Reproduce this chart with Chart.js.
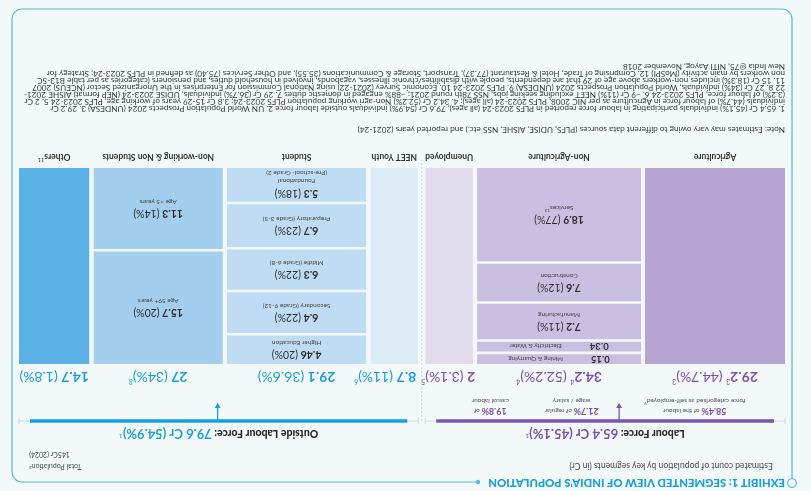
<!DOCTYPE html>
<html>
<head>
<meta charset="utf-8">
<title>Segmented view of India's population</title>
<script src="https://cdn.jsdelivr.net/npm/chart.js@4.4.1/dist/chart.umd.min.js"></script>
<style>
html,body{margin:0;padding:0;background:#F3F8F9;}
body{width:811px;height:491px;overflow:hidden;position:relative;}
#page{position:absolute;left:0;top:0;width:811px;height:491px;transform:rotate(180deg);font-family:Lato,"Open Sans",Arial,sans-serif;color:#333;}
#chart{position:absolute;left:0;top:0;width:811px;height:491px;}
.t{position:absolute;white-space:nowrap;line-height:1;}
#title{left:26px;top:2px;font-size:10.5px;font-weight:900;color:#1B9FDA;}
#subtitle{left:38px;top:21px;font-size:7px;color:#4a4a4a;}
#total{right:29px;top:19px;font-size:7px;color:#4a4a4a;text-align:right;line-height:10px;}
.sp{font-size:65%;position:relative;top:-0.45em;}
#noteHead{left:26px;top:356.5px;font-size:6.5px;color:#3a3a3a;}
#notes{position:absolute;left:26px;top:378.5px;font-size:6.5px;color:#3a3a3a;}
#notes div{white-space:nowrap;height:7.05px;line-height:7.05px;}
</style>
</head>
<body>
<div id="page">
  <canvas id="chart" width="811" height="491"></canvas>
  <div id="title" class="t"></div>
  <div id="subtitle" class="t"></div>
  <div id="total" class="t"></div>
  <div id="noteHead" class="t"></div>
  <div id="notes"></div>
</div>
<script>
// ---------------- data ----------------
const titleText = "EXHIBIT 1: SEGMENTED VIEW OF INDIA'S POPULATION";
const subtitleText = "Estimated count of population by key segments (in Cr)";
const totalLabel = "Total Population";
const totalNote = "2";
const totalValue = "145Cr (2024)";

const columnNames = ["Agriculture", "Non-Agriculture", "Unemployed", "NEET Youth", "Student", "Non-working & Non Students", "Others"];
const columnNameNotes = ["", "", "", "", "", "", "11"];
const columnValues = [29.2, 34.2, 2, 8.7, 29.1, 27, 14.7];
const columnShares = ["44.7%", "52.2%", "3.1%", "11%", "36.6%", "34%", "1.8%"];
const valueNotes = ["3", "4", "", "", "", "", ""];
const shareNotes = ["3", "4", "5", "6", "", "8", ""];
const columnGroups = [0, 0, 0, 1, 1, 1, 1];

const nonAgriLabels = ["Mining & Quarrying", "Electricity & Water", "Manufacturing", "Construction", "Services"];
const nonAgriNotes = ["", "", "", "", "12"];
const nonAgriValues = [0.15, 0.34, 7.2, 7.6, 18.9];
const nonAgriShares = ["", "", "11%", "12%", "77%"];

const studentLabels = ["Higher Education", "Secondary (Grade 9-12)", "Middle (Grade 6-8)", "Preparatory (Grade 3-5)", "Foundational\n(Pre-school- Grade 2)"];
const studentValues = [4.46, 6.4, 6.3, 6.7, 5.3];
const studentShares = ["20%", "22%", "22%", "23%", "18%"];

const nonWorkingLabels = ["Age 59+ years", "Age <5 years"];
const nonWorkingValues = [15.7, 11.3];
const nonWorkingShares = ["20%", "14%"];

const groupNames = ["Labour Force: ", "Outside Labour Force: "];
const groupValues = [65.4, 79.6];
const groupShares = ["45.1%", "54.9%"];
const groupNotes = ["1", "1"];

const labourSplitShares = ["58.4%", "21.7%", "19.8%"];
const labourSplitLine1 = [" of the labour", " of regular", " of"];
const labourSplitLine2 = ["force categorised as self-employed", "wage / salary", "casual labour"];
const labourSplitNotes = ["9", "", ""];

const noteHeadText = "Note: Estimates may vary owing to different data sources (PLFS, UDISE, AISHE, NSS etc.) and reported years (2021-24)";
const noteLines = [
  "1. 65.4 Cr (45.1%) individuals participating in labour force reported in PLFS 2023-24 (all ages), 79.6 Cr (54.9%) individuals outside labour force 2. UN World Population Prospects 2024 (UNDESA) 3. 29.2 Cr",
  "individuals (44.7%) of labour force in Agriculture as per NIC 2008, PLFS 2023-24 (all ages); 4. 34.2 Cr (52.2%) Non-agri working population PLFS 2023-24; 3.8 Cr 15-29 years of working age, PLFS 2023-24 5. 2 Cr",
  "(3.2%) of labour force, PLFS 2023-24 6. ~9 Cr (11%) NEET excluding seeking jobs, NSS 78th round 2021; ~88% engaged in domestic duties 7. 29 Cr (36.7%) individuals, UDISE 2023-24 (NEP format) AISHE 2021-",
  "22 8. 27 Cr (34%) individuals, World Population Prospects 2024 (UNDESA) 9. PLFS 2023-24 10. Economic Survey (2021-22) using National Commission for Enterprises in the Unorganized Sector (NCEUS) 2007",
  "11. 15 Cr (18.3%) includes non-workers above age of 29 that are dependents, people with disabilities/chronic illnesses, vagabonds, involved in household duties, and pensioners (categories as per table B13-SC",
  "non workers by main activity (MoSPI) 12. Comprising of Trade, Hotel & Restaurant (77.37), Transport, Storage & Communications (35.55), and Other Services (75.40) as defined in PLFS 2023-24; Strategy for",
  "New India @75, NITI Aayog, November 2018"
];

// ---------------- styles / layout ----------------
const columnColors = ["#B7A5D3", "#CBBFE1", "#E3DCEE", "#DDEBF7", "#BEDDF4", "#A3CEEE", "#5CB1E5"];
const groupColors = ["#7A50B0", "#1B9FDA"];
const groupLineColors = ["#7B55B3", "#13A1DE"];
const COL_GAP = 0.83, GROUP_GAP = 1.45, MIN_COL = 10, MIN_SEG = 2, SEG_GAP = 0.013;
const annotationPos = [0.251, 0.593, 0.819];
const arrowShift = [-14, 1];
const FONT = 'Lato, "Open Sans", sans-serif';
const F = (w, s) => `${w} ${s}px ${FONT}`;

const segmentsByColumn = [
  null,
  {labels: nonAgriLabels, notes: nonAgriNotes, values: nonAgriValues, shares: nonAgriShares},
  null,
  null,
  {labels: studentLabels, notes: studentLabels.map(() => ""), values: studentValues, shares: studentShares},
  {labels: nonWorkingLabels, notes: nonWorkingLabels.map(() => ""), values: nonWorkingValues, shares: nonWorkingShares},
  null
];

// column extents along the x scale (Cr units)
const colStart = [], colEnd = [];
let cursor = 0;
columnValues.forEach((v, i) => {
  if (i > 0) cursor += (columnGroups[i] !== columnGroups[i - 1]) ? GROUP_GAP : COL_GAP;
  colStart.push(cursor);
  cursor += Math.max(v, MIN_COL);
  colEnd.push(cursor);
});
const X_MAX = cursor;

function segLayout(values) {
  const w = values.map(v => Math.max(v, MIN_SEG));
  const tot = w.reduce((a, b) => a + b, 0);
  const avail = 1 - SEG_GAP * (w.length - 1);
  let y = 0;
  return w.map(wi => { const y0 = y, y1 = y + wi / tot * avail; y = y1 + SEG_GAP; return [y0, y1]; });
}

const cells = [];
columnValues.forEach((v, i) => {
  const seg = segmentsByColumn[i];
  if (!seg) { cells.push({col: i, y0: 0, y1: 1, seg: null}); return; }
  segLayout(seg.values).forEach(([y0, y1], k) => cells.push({col: i, y0, y1, seg, k}));
});

const datasets = cells.map(c => ({
  label: c.seg ? c.seg.labels[c.k] : columnNames[c.col],
  data: [{x: colStart[c.col], y: c.y0}, {x: colEnd[c.col], y: c.y0}],
  fill: {value: c.y1},
  backgroundColor: columnColors[c.col],
  borderColor: "rgba(0,0,0,0)",
  borderWidth: 0,
  pointRadius: 0,
  pointHoverRadius: 0,
  tension: 0
}));

// ---------------- text helpers ----------------
function measure(ctx, parts) { let w = 0; for (const p of parts) { ctx.font = p.f; w += ctx.measureText(p.t).width; } return w; }
function rich(ctx, parts, x, y, align) {
  const w = measure(ctx, parts);
  let cx = align === "left" ? x : (align === "right" ? x - w : x - w / 2);
  ctx.textAlign = "left"; ctx.textBaseline = "middle";
  for (const p of parts) { ctx.font = p.f; ctx.fillStyle = p.c; ctx.fillText(p.t, cx, y + (p.dy || 0)); cx += ctx.measureText(p.t).width; }
  return w;
}
const sup = (t, size, c) => ({t, f: F(400, size), c, dy: -size * 0.55});

const framePlugin = {
  id: "frame",
  beforeDraw(chart) {
    const ctx = chart.ctx;
    const L = 19, R = 799, T = 9, B = 482, r = 10;
    ctx.save();
    ctx.strokeStyle = "#55BAE8"; ctx.lineWidth = 1.2;
    ctx.beginPath();
    ctx.moveTo(333, T);
    ctx.lineTo(R - r, T); ctx.arcTo(R, T, R, T + r, r);
    ctx.lineTo(R, B - r); ctx.arcTo(R, B, R - r, B, r);
    ctx.lineTo(L + r, B); ctx.arcTo(L, B, L, B - r, r);
    ctx.lineTo(L, 12.5);
    ctx.stroke();
    ctx.beginPath(); ctx.arc(L, 8, 4.3, 0, Math.PI * 2); ctx.fillStyle = "#F3F8F9"; ctx.fill(); ctx.stroke();
    ctx.beginPath(); ctx.arc(333, T, 2.2, 0, Math.PI * 2); ctx.fillStyle = "#55BAE8"; ctx.fill();
    ctx.restore();
  }
};

const labelPlugin = {
  id: "labels",
  afterDatasetsDraw(chart) {
    const ctx = chart.ctx, xs = chart.scales.x, ys = chart.scales.y, ca = chart.chartArea;
    const px = v => xs.getPixelForValue(v), py = v => ys.getPixelForValue(v);
    ctx.save();

    // divider between groups
    const divX = (px(colEnd[2]) + px(colStart[3])) / 2;
    ctx.strokeStyle = "#C5C9CE"; ctx.lineWidth = 0.8; ctx.setLineDash([2, 2]);
    ctx.beginPath(); ctx.moveTo(divX, ca.top - 57); ctx.lineTo(divX, ca.bottom + 8); ctx.stroke();
    ctx.setLineDash([]);

    // column headers and value labels
    columnNames.forEach((name, i) => {
      const x0 = px(colStart[i]), x1 = px(colEnd[i]);
      const cx = (x0 + x1) / 2;
      const hp = [{t: name, f: F(700, 8.5), c: "#333"}];
      if (columnNameNotes[i]) hp.push(sup(columnNameNotes[i], 5.5, "#333"));
      rich(ctx, hp, cx, ca.bottom + 11, "center");
      const col = groupColors[columnGroups[i]];
      const vp = [{t: String(columnValues[i]), f: F(700, 14), c: col}];
      if (valueNotes[i]) vp.push(sup(valueNotes[i], 7, col));
      vp.push({t: " (" + columnShares[i] + ")", f: F(400, 14), c: col});
      if (shareNotes[i]) vp.push(sup(shareNotes[i], 7, col));
      const w = measure(ctx, vp);
      // narrow columns next to the group divider: keep the label away from the divider
      const nextOther = i < columnGroups.length - 1 && columnGroups[i + 1] !== columnGroups[i];
      const prevOther = i > 0 && columnGroups[i - 1] !== columnGroups[i];
      if (w > x1 - x0 && nextOther) rich(ctx, vp, x1 + 4, ca.top - 13, "right");
      else if (w > x1 - x0 && prevOther) rich(ctx, vp, x0 + 2, ca.top - 13, "left");
      else rich(ctx, vp, cx, ca.top - 13, "center");
    });

    // cell labels
    cells.forEach(c => {
      if (!c.seg) return;
      const x0 = px(colStart[c.col]), x1 = px(colEnd[c.col]);
      const y0 = py(c.y0), y1 = py(c.y1);
      const cx = (x0 + x1) / 2, cy = (y0 + y1) / 2, h = Math.abs(y1 - y0);
      const v = String(c.seg.values[c.k]);
      const share = c.seg.shares[c.k];
      const lines = c.seg.labels[c.k].split("\n");
      const note = c.seg.notes[c.k];
      if (h < 16) {
        const vw = (ctx.font = F(700, 9.5), ctx.measureText(v).width);
        const lw = (ctx.font = F(400, 6.3), ctx.measureText(lines[0]).width);
        const gap = 28, tot = vw + gap + lw;
        rich(ctx, [{t: v, f: F(700, 9.5), c: "#2E2E2E"}], cx - tot / 2, cy + 0.5, "left");
        rich(ctx, [{t: lines[0], f: F(400, 6.3), c: "#444"}], cx - tot / 2 + vw + gap, cy + 0.5, "left");
        return;
      }
      const vp = [{t: v, f: F(700, 10.5), c: "#2E2E2E"}];
      if (share) vp.push({t: " (" + share + ")", f: F(400, 10.5), c: "#2E2E2E"});
      if (lines.length === 1) {
        rich(ctx, vp, cx, cy - 5, "center");
        const lp = [{t: lines[0], f: F(400, 6.5), c: "#444"}];
        if (note) lp.push(sup(note, 4.5, "#444"));
        rich(ctx, lp, cx, cy + 6.5, "center");
      } else {
        rich(ctx, vp, cx, cy - 8.5, "center");
        rich(ctx, [{t: lines[0], f: F(400, 6.5), c: "#444"}], cx, cy + 4, "center");
        rich(ctx, [{t: lines[1], f: F(400, 6.5), c: "#444"}], cx, cy + 11.5, "center");
      }
    });

    // group brackets
    [0, 1].forEach(g => {
      const idx = columnGroups.map((gg, i) => gg === g ? i : -1).filter(i => i >= 0);
      const gx0 = px(colStart[idx[0]]), gx1 = px(colEnd[idx[idx.length - 1]]);
      const y = ca.top - 57, mid = (gx0 + gx1) / 2;
      ctx.strokeStyle = "#CDD1D5"; ctx.lineWidth = 0.8;
      ctx.beginPath(); ctx.moveTo(gx0, y); ctx.lineTo(gx1, y);
      ctx.moveTo(gx0, y - 3); ctx.lineTo(gx0, y + 3);
      ctx.moveTo(gx1, y - 3); ctx.lineTo(gx1, y + 3); ctx.stroke();
      ctx.strokeStyle = groupLineColors[g]; ctx.lineWidth = 3.5; ctx.lineCap = "butt";
      ctx.beginPath(); ctx.moveTo(gx0 + 11, y); ctx.lineTo(gx1 - 11, y); ctx.stroke();
      const ax = mid + arrowShift[g];
      ctx.lineWidth = 1.3;
      ctx.beginPath(); ctx.moveTo(ax, y); ctx.lineTo(ax, y + 14); ctx.stroke();
      ctx.fillStyle = groupLineColors[g];
      ctx.beginPath(); ctx.moveTo(ax, y + 18); ctx.lineTo(ax - 3, y + 13); ctx.lineTo(ax + 3, y + 13); ctx.closePath(); ctx.fill();
      const col = groupColors[g];
      rich(ctx, [
        {t: groupNames[g], f: F(900, 10.5), c: "#2A2A2A"},
        {t: groupValues[g] + " Cr (" + groupShares[g] + ")", f: F(700, 13), c: col},
        sup(groupNotes[g], 6.5, col)
      ], mid, ca.top - 69, "center");
      if (g === 0) {
        labourSplitShares.forEach((s, k) => {
          const ex = gx0 + annotationPos[k] * (gx1 - gx0);
          rich(ctx, [{t: s, f: F(700, 9), c: col}, {t: labourSplitLine1[k], f: F(400, 6.5), c: "#555"}], ex, ca.top - 47, "center");
          const l2 = [{t: labourSplitLine2[k], f: F(400, 6.5), c: "#555"}];
          if (labourSplitNotes[k]) l2.push(sup(labourSplitNotes[k], 4.5, "#555"));
          rich(ctx, l2, ex, ca.top - 37, "center");
        });
      }
    });
    ctx.restore();
  }
};

new Chart(document.getElementById("chart"), {
  type: "line",
  data: {datasets},
  options: {
    responsive: false,
    animation: false,
    events: [],
    layout: {padding: {left: 26, right: 19, top: 127, bottom: 168}},
    scales: {
      x: {type: "linear", display: false, min: 0, max: X_MAX},
      y: {type: "linear", display: false, min: 0, max: 1, reverse: true}
    },
    plugins: {legend: {display: false}, tooltip: {enabled: false}}
  },
  plugins: [framePlugin, labelPlugin]
});

// ---------------- HTML texts ----------------
document.getElementById("title").textContent = titleText;
document.getElementById("subtitle").textContent = subtitleText;
document.getElementById("total").innerHTML = totalLabel + '<span class="sp">' + totalNote + '</span><br>' + totalValue;
document.getElementById("noteHead").textContent = noteHeadText;
const notesEl = document.getElementById("notes");
noteLines.forEach(l => { const d = document.createElement("div"); const s = document.createElement("span"); s.textContent = l; d.appendChild(s); notesEl.appendChild(d); });

function fit(el, target) {
  const fs = parseFloat(getComputedStyle(el).fontSize);
  const w = el.getBoundingClientRect().width;
  if (w > 0) el.style.fontSize = (fs * target / w) + "px";
}
fit(document.getElementById("title"), 297);
fit(document.getElementById("subtitle"), 204);
const fs0 = parseFloat(getComputedStyle(notesEl).fontSize);
const wMax = Math.max(...Array.from(notesEl.querySelectorAll("span")).map(s => s.getBoundingClientRect().width));
const nfs = fs0 * 762 / wMax;
notesEl.style.fontSize = nfs + "px";
document.getElementById("noteHead").style.fontSize = nfs + "px";
</script>
</body>
</html>
